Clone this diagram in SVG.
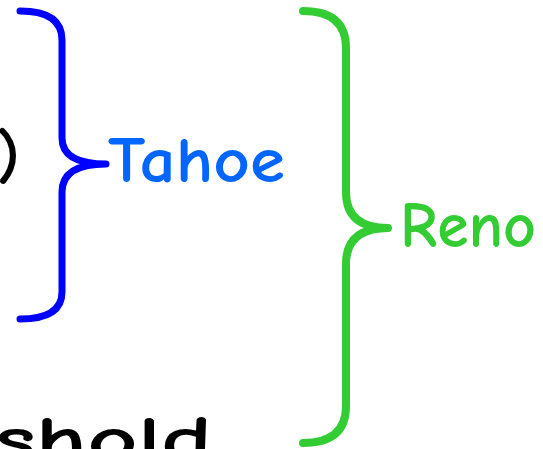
<svg xmlns="http://www.w3.org/2000/svg" width="543" height="449" viewBox="0 0 543 449">
  <style>
    .lbl { font-family: "Comic Sans MS", "Comic Neue", "DejaVu Sans", sans-serif; font-size: 64px; font-weight: 700; }
    .brace { fill: none; stroke-linecap: round; stroke-linejoin: round; }
  </style>
  <rect width="543" height="449" fill="#ffffff"/>

  <!-- surrounding formula text, clipped by the frame -->
  <g id="formula">
    <text class="lbl" x="-3" y="177" fill="#000000" font-size="104">)</text>
    <text class="lbl" x="-6" y="461" fill="#000000" textLength="218" lengthAdjust="spacingAndGlyphs">shold</text>
  </g>

  <g id="connectors">
    <!-- Tahoe brace -->
    <path class="brace" stroke="#0000ff" stroke-width="7"
          d="M20 11 Q62 11 62 40 L62 138 Q62 164 106 164 Q62 164 62 192 L62 292 Q62 319 20 319"/>
    <!-- Reno brace -->
    <path class="brace" stroke="#33cc33" stroke-width="8"
          d="M303 11 Q346 11 346 48 L346 192 Q346 228 388 228 Q346 228 346 264 L346 406 Q346 443 303 443"/>
  </g>

  <g id="tahoe">
    <text class="lbl" x="108" y="182" fill="#0066ff" textLength="177" lengthAdjust="spacingAndGlyphs">Tahoe</text>
  </g>
  <g id="reno">
    <text class="lbl" x="400" y="247" fill="#33cc33" textLength="136" lengthAdjust="spacingAndGlyphs">Reno</text>
  </g>
</svg>
